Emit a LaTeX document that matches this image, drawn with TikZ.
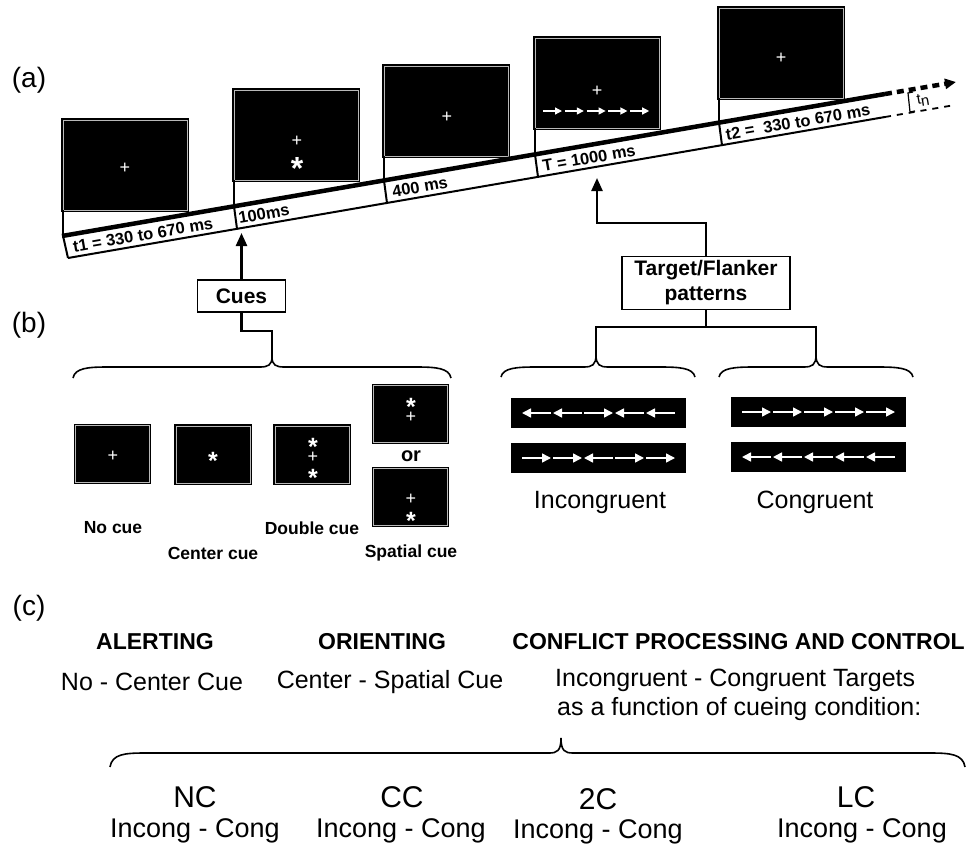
\documentclass[tikz,border=0pt]{standalone}
\usepackage{fontspec}
\setmainfont{Liberation Sans}
\usetikzlibrary{arrows.meta,calc}
\newcommand\fsz[1]{\fontsize{#1}{#1}\selectfont}
\newcommand\bracepath[6]{%
  \draw[brc] (#1,#6) .. controls (#1+2,#5+1) and (#1+15,#5) .. (#1+35,#5) -- (#3-12,#5)
    .. controls (#3-4,#5) and (#3,#5-2) .. (#3,#4)
    .. controls (#3,#5-2) and (#3+4,#5) .. (#3+12,#5) -- (#2-35,#5)
    .. controls (#2-15,#5) and (#2-2,#5+1) .. (#2,#6);}
\begin{document}
\begin{tikzpicture}[x=1pt,y=-1pt,
  screen/.style={draw=black, fill=black, line width=1.3pt, double=gray!55, double distance=0.8pt,
    inner sep=0, outer sep=0, minimum width=124, minimum height=90, anchor=north west},
  cuescr/.style={screen, minimum width=74, minimum height=57, anchor=center},
  bar/.style={fill=black, inner sep=0, outer sep=0, minimum width=175, minimum height=30},
  plusg/.style={text=white, inner sep=0, anchor=base, font=\fsz{18}, yshift=-6.4pt},
  starg/.style={text=white, inner sep=0, anchor=base, font=\bfseries\fsz{25}, yshift=-14pt},
  bigstar/.style={text=white, inner sep=0, anchor=base, font=\bfseries\fsz{32}, yshift=-17.9pt},
  tl/.style={inner sep=0, rotate=9.8, font=\bfseries\fsz{16.5}},
  box/.style={draw, line width=1.5pt, inner sep=0, font=\bfseries\fsz{21}, align=center},
  conn/.style={line width=2.4pt},
  arr/.style={conn, -{Triangle[length=13pt,width=11pt]}},
  wa/.style={white, line width=1.5pt, -{Triangle[length=9pt,width=9pt]}},
  wa4/.style={white, line width=1.3pt, -{Triangle[length=7pt,width=7pt]}},
  brc/.style={line width=1.6pt},
  vl/.style={line width=2.5pt},
  lab/.style={inner sep=0, font=\fsz{28}},
  cuelab/.style={inner sep=0, font=\bfseries\fsz{17.5}},
  big/.style={inner sep=0, font=\fsz{25}},
  hd/.style={inner sep=0, font=\bfseries\fsz{23}},
  tx/.style={inner sep=0, font=\fsz{25}},
  cond/.style={inner sep=0, font=\fsz{30}},
  ic/.style={inner sep=0, font=\fsz{27}}
]
\fill[white] (0,0) rectangle (967,846);
\useasboundingbox (0,0) rectangle (967,846);

% ---------- (a) ----------
\node[lab] (la) at (29,80) {(a)};

% strip coordinates
\coordinate (TL) at (62,236);
\coordinate (TR) at (885,94);
\coordinate (BL) at (68,258);
\coordinate (BR) at (885,117);
\coordinate (TE) at (956,82);
\coordinate (BE) at (952,105.5);
\coordinate (p1) at (63,235.8);
\coordinate (p2) at (234,206.3);
\coordinate (p3) at (384,180.5);
\coordinate (p4) at (535,154.4);
\coordinate (p5) at (719,122.7);
\coordinate (q2) at (237,228.8);
\coordinate (q3) at (387,203.0);
\coordinate (q4) at (538,176.9);
\coordinate (q5) at (722,145.2);

% screens
\node[screen] (s1) at (63,120) {};
\node[screen] (s2) at (234,90) {};
\node[screen] (s3) at (384,66) {};
\node[screen] (s4) at (535,38) {};
\node[screen] (s5) at (719,8) {};

\draw[vl] (s1.south west) -- (p1);
\draw[vl] (s2.south west) -- (p2);
\draw[vl] (s3.south west) -- (p3);
\draw[vl] (s4.south west) -- (p4);
\draw[vl] (s5.south west) -- (p5);

\draw[line width=4.5pt] (TL) -- (TR);
\draw[line width=4.5pt, dash pattern=on 7pt off 5pt, -{Triangle[length=11pt,width=10pt]}] (TR) -- (TE);
\draw[line width=2pt] (BL) -- (BR);
\draw[line width=1.8pt, dash pattern=on 6pt off 6pt] (BR) -- (BE);
\draw[line width=2pt] (p1) -- (BL);
\draw[line width=2pt] (p2) -- (q2);
\draw[line width=2pt] (p3) -- (q3);
\draw[line width=2pt] (p4) -- (q4);
\draw[line width=2pt] (p5) -- (q5);

% tn marker
\draw[line width=1.2pt] (913,92) -- (908,93) -- (910,112) -- (915,111);
\node[inner sep=0, font=\fsz{15}, rotate=9.8] (tn) at (923,100) {t\raisebox{-2pt}{n}};

% glyphs in screens
\node[plusg] (g1) at (125,167) {+};
\node[plusg] (g2) at (297,140) {+};
\node[bigstar] (g2s) at (297,162) {*};
\node[plusg] (g3) at (447,116) {+};
\node[plusg] (g4) at (597,90) {+};
\foreach \i in {0,...,4}
  \draw[wa4] (543+21.8*\i,111) -- (562+21.8*\i,111);
\node[plusg] (g5) at (781,57) {+};

% strip labels
\node[tl] (l1) at (143,235) {t1 = 330 to 670 ms};
\node[tl] (l2) at (264,214) {100ms};
\node[tl] (l3) at (420,187) {400 ms};
\node[tl] (l4) at (589,158) {T = 1000 ms};
\node[tl] (l5) at (798,122) {t2 =\ \ 330 to 670 ms};

% ---------- (b) ----------
\node[lab] (lb) at (29,325) {(b)};

\node[box, minimum width=88, minimum height=32] (cues) at (241.5,296) {Cues};
\coordinate (cuetip) at (241.5,233);
\draw[arr] (cues.north) -- (cuetip);
\coordinate (cbt) at (272,357);
\draw[conn] (cues.south) |- ($(cbt)+(0,-26)$) -- (cbt);
\bracepath{73}{451}{272}{357}{367}{378}

\node[box, minimum width=168, minimum height=53, font=\bfseries\fontsize{21}{25}\selectfont] (tgt) at (706,283) {Target/Flanker\\patterns};
\coordinate (ttip) at (597,178);
\draw[arr] (tgt.north) |- ($(ttip)+(0,45)$) -- (ttip);
\coordinate (jn) at (706,327);
\draw[conn] (tgt.south) -- (jn);
\coordinate (ibt) at (596,355);
\coordinate (cgt) at (816,355);
\draw[conn] (ibt) -- ++(0,-28) -| (cgt);
\bracepath{501}{695}{596}{355}{367}{377}
\bracepath{719}{913}{816}{355}{367}{377}

% cue screens
\node[cuescr] (nc) at (112.5,454) {};
\node[plusg] (ncp) at (113,455) {+};
\node[cuescr] (cc) at (213,454.5) {};
\node[starg] (ccs) at (213,455) {*};
\node[cuescr] (dc) at (312,454.5) {};
\node[starg] (dcs1) at (313,441) {*};
\node[plusg] (dcp) at (313,456) {+};
\node[starg] (dcs2) at (313,472) {*};
\node[cuescr] (sct) at (410.5,414) {};
\node[starg] (scts) at (411,401) {*};
\node[plusg] (sctp) at (411,416) {+};
\node[cuescr] (scb) at (410.5,497) {};
\node[plusg] (scbp) at (411,498) {+};
\node[starg] (scbs) at (411,515) {*};
\node[inner sep=0, font=\bfseries\fsz{20}] (or) at (411,456) {or};

\node[cuelab] (t1) at (113,528) {No cue};
\node[cuelab] (t2) at (213,553) {Center cue};
\node[cuelab] (t3) at (312,528) {Double cue};
\node[cuelab] (t4) at (411,553) {Spatial cue};

% flanker bars
\node[bar] (b1) at (598.5,413) {};
\node[bar] (b2) at (598.5,458) {};
\node[bar] (b3) at (818.5,412) {};
\node[bar] (b4) at (818.5,457) {};
\foreach \d [count=\i from 0] in {-1,-1,1,-1,-1}
  \draw[wa] ($(b1.west)+(11+31*\i+14.5-14.5*\d,0)$) -- ($(b1.west)+(11+31*\i+14.5+14.5*\d,0)$);
\foreach \d [count=\i from 0] in {1,1,-1,1,1}
  \draw[wa] ($(b2.west)+(11+31*\i+14.5-14.5*\d,0)$) -- ($(b2.west)+(11+31*\i+14.5+14.5*\d,0)$);
\foreach \d [count=\i from 0] in {1,1,1,1,1}
  \draw[wa] ($(b3.west)+(11+31*\i+14.5-14.5*\d,0)$) -- ($(b3.west)+(11+31*\i+14.5+14.5*\d,0)$);
\foreach \d [count=\i from 0] in {-1,-1,-1,-1,-1}
  \draw[wa] ($(b4.west)+(11+31*\i+14.5-14.5*\d,0)$) -- ($(b4.west)+(11+31*\i+14.5+14.5*\d,0)$);

\node[big] (inc) at (600,502) {Incongruent};
\node[big] (con) at (815,502) {Congruent};

% ---------- (c) ----------
\node[lab] (lc) at (29,608) {(c)};
\node[hd] (h1) at (155,642) {ALERTING};
\node[hd] (h2) at (382,642) {ORIENTING};
\node[hd, anchor=east] (h3) at (965,642) {CONFLICT PROCESSING AND CONTROL};
\node[tx] (d1) at (152,682) {No - Center Cue};
\node[tx] (d2) at (390,682) {Center - Spatial Cue};
\node[tx, anchor=west] (d3) at (555,680) {Incongruent - Congruent Targets};
\node[tx, anchor=west] (d4) at (557,709) {as a function of cueing condition:};

\bracepath{110}{965}{561}{738}{753}{767}

\node[cond] (nc1) at (195,797) {NC};
\node[cond] (cc1) at (402,797) {CC};
\node[cond] (tc1) at (598,799) {2C};
\node[cond] (lc1) at (856,797) {LC};
\node[ic] (nc2) at (195,831) {Incong - Cong};
\node[ic] (cc2) at (401,831) {Incong - Cong};
\node[ic] (tc2) at (598,832) {Incong - Cong};
\node[ic] (lc2) at (862,831) {Incong - Cong};
\end{tikzpicture}
\end{document}
